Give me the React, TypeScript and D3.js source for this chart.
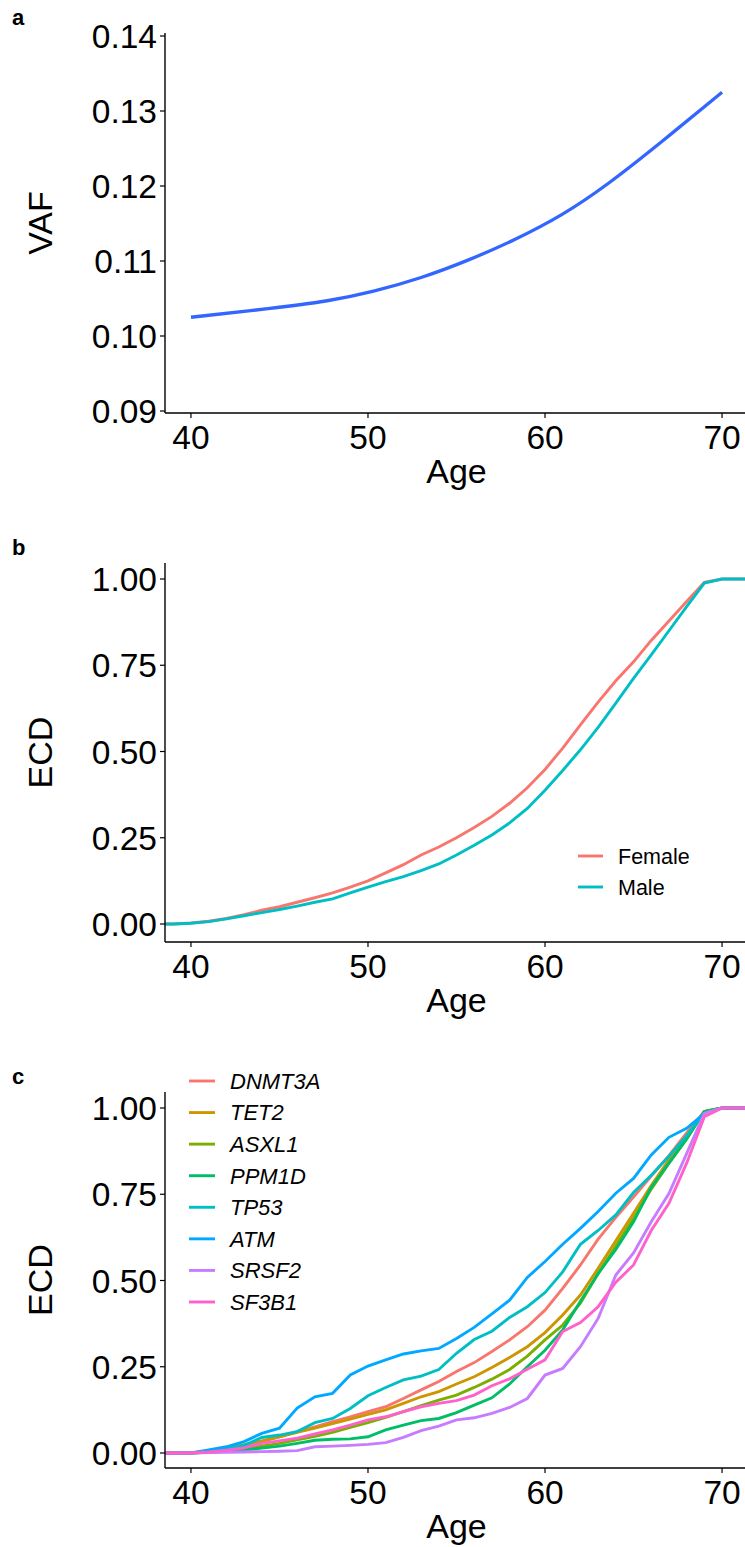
import React from "react";
import * as d3 from "d3";

// ---------- Panel a : smoothed VAF vs age ----------
const vafAge = [40, 44.6, 47.7, 50.3, 53, 55.7, 58.3, 61, 63.5, 66.5, 70];
const vafValue = [0.1025, 0.1037, 0.1046, 0.1059, 0.1077, 0.1101, 0.1128, 0.1161, 0.1201, 0.1257, 0.1325];
const vafTicks = [0.09, 0.1, 0.11, 0.12, 0.13, 0.14];

// ---------- Panel b / c : ECD by age ----------
const ecdAges = [38, 39, 40, 41, 42, 43, 44, 45, 46, 47, 48, 49, 50, 51, 52, 53, 54, 55, 56, 57, 58, 59, 60, 61, 62, 63, 64, 65, 66, 67, 68, 69, 70, 76];

const female = [0, 0, 0.003, 0.008, 0.016, 0.027, 0.04, 0.05, 0.063, 0.076, 0.09, 0.107, 0.125, 0.148, 0.172, 0.2, 0.223, 0.25, 0.28, 0.312, 0.35, 0.395, 0.448, 0.51, 0.577, 0.643, 0.705, 0.76, 0.822, 0.878, 0.935, 0.99, 1, 1];
const male = [0, 0, 0.002, 0.007, 0.015, 0.024, 0.033, 0.042, 0.052, 0.063, 0.073, 0.09, 0.107, 0.123, 0.137, 0.155, 0.174, 0.2, 0.228, 0.258, 0.293, 0.335, 0.388, 0.445, 0.505, 0.57, 0.64, 0.712, 0.78, 0.85, 0.92, 0.988, 1, 1];

const sexNames = ["Female", "Male"];
const sexColors = ["#F8766D", "#00BFC4"];

const dnmt3a = [0, 0, 0, 0.006, 0.013, 0.022, 0.033, 0.047, 0.062, 0.076, 0.091, 0.105, 0.12, 0.134, 0.158, 0.183, 0.207, 0.236, 0.262, 0.294, 0.328, 0.366, 0.414, 0.477, 0.545, 0.62, 0.683, 0.742, 0.803, 0.862, 0.928, 0.99, 1, 1];
const tet2 = [0, 0, 0, 0.006, 0.014, 0.024, 0.035, 0.047, 0.06, 0.072, 0.085, 0.098, 0.112, 0.125, 0.144, 0.163, 0.178, 0.2, 0.221, 0.248, 0.277, 0.308, 0.349, 0.4, 0.458, 0.535, 0.615, 0.695, 0.775, 0.85, 0.92, 0.99, 1, 1];
const asxl1 = [0, 0, 0, 0.003, 0.007, 0.012, 0.02, 0.028, 0.038, 0.048, 0.06, 0.074, 0.088, 0.103, 0.12, 0.137, 0.153, 0.168, 0.19, 0.214, 0.242, 0.281, 0.328, 0.371, 0.434, 0.52, 0.6, 0.68, 0.765, 0.84, 0.91, 0.99, 1, 1];
const ppm1d = [0, 0, 0, 0.002, 0.005, 0.009, 0.014, 0.02, 0.028, 0.037, 0.04, 0.041, 0.047, 0.067, 0.081, 0.094, 0.1, 0.117, 0.139, 0.16, 0.2, 0.25, 0.298, 0.357, 0.44, 0.52, 0.59, 0.67, 0.77, 0.84, 0.91, 0.99, 1, 1];
const tp53 = [0, 0, 0, 0.004, 0.012, 0.022, 0.045, 0.052, 0.062, 0.088, 0.1, 0.129, 0.166, 0.19, 0.212, 0.223, 0.242, 0.289, 0.329, 0.353, 0.393, 0.424, 0.465, 0.525, 0.605, 0.645, 0.69, 0.755, 0.805, 0.86, 0.92, 0.985, 1, 1];
const atm = [0, 0, 0, 0.009, 0.018, 0.033, 0.057, 0.072, 0.13, 0.163, 0.173, 0.226, 0.252, 0.27, 0.287, 0.296, 0.303, 0.332, 0.364, 0.403, 0.443, 0.509, 0.555, 0.605, 0.651, 0.7, 0.753, 0.796, 0.864, 0.915, 0.941, 0.984, 1, 1];
const srsf2 = [0, 0, 0, 0.001, 0.002, 0.003, 0.004, 0.005, 0.007, 0.018, 0.02, 0.022, 0.025, 0.03, 0.045, 0.065, 0.078, 0.096, 0.102, 0.115, 0.132, 0.158, 0.226, 0.245, 0.308, 0.39, 0.516, 0.58, 0.67, 0.752, 0.868, 0.984, 1, 1];
const sf3b1 = [0, 0, 0, 0.003, 0.008, 0.015, 0.028, 0.035, 0.043, 0.055, 0.067, 0.081, 0.096, 0.105, 0.12, 0.134, 0.144, 0.152, 0.168, 0.195, 0.215, 0.243, 0.27, 0.352, 0.378, 0.424, 0.495, 0.545, 0.645, 0.724, 0.84, 0.975, 1, 1];

const geneNames = ["DNMT3A", "TET2", "ASXL1", "PPM1D", "TP53", "ATM", "SRSF2", "SF3B1"];
const geneColors = ["#F8766D", "#CD9600", "#7CAE00", "#00BE67", "#00BFC4", "#00A9FF", "#C77CFF", "#FF61CC"];
const geneValues = [dnmt3a, tet2, asxl1, ppm1d, tp53, atm, srsf2, sf3b1];

const ageTicks = [40, 50, 60, 70];
const ecdTicks = [0, 0.25, 0.5, 0.75, 1];

const FONT = "'Liberation Sans', Arial, Helvetica, sans-serif";
const W = 745;
const H = 1547;
const LW = 2.9;

const x = d3.scaleLinear().domain([38.5, 71.5]).range([164.4, 748.6]);

type PanelProps = {
  id: string;
  label: string;
  yTitle: string;
  y: d3.ScaleLinear<number, number>;
  yTicks: number[];
  yFormat: (v: number) => string;
  top: number;
  bottom: number;
  children?: React.ReactNode;
};

function Panel({ id, label, yTitle, y, yTicks, yFormat, top, bottom, children }: PanelProps) {
  const left = 165;
  const right = 749;
  return (
    <g>
      <defs>
        <clipPath id={id}>
          <rect x={left} y={top} width={right - left} height={bottom - top} />
        </clipPath>
      </defs>
      <text x={12} y={top - 8} fontFamily={FONT} fontSize={22} fontWeight="bold">{label}</text>
      <g clipPath={`url(#${id})`}>{children}</g>
      {/* y axis */}
      <line x1={left} x2={left} y1={top} y2={bottom} stroke="black" strokeWidth={1.4} />
      {yTicks.map((t) => (
        <g key={t}>
          <line x1={left - 5} x2={left} y1={y(t)} y2={y(t)} stroke="black" strokeWidth={1.2} />
          <text x={left - 8} y={y(t)} dy="0.36em" textAnchor="end" fontFamily={FONT} fontSize={33.5}>{yFormat(t)}</text>
        </g>
      ))}
      <text transform={`translate(${52},${(top + bottom) / 2}) rotate(-90)`} textAnchor="middle" fontFamily={FONT} fontSize={34}>{yTitle}</text>
      {/* x axis */}
      <line x1={left} x2={right} y1={bottom} y2={bottom} stroke="black" strokeWidth={1.4} />
      {ageTicks.map((t) => (
        <g key={t}>
          <line x1={x(t)} x2={x(t)} y1={bottom} y2={bottom + 5} stroke="black" strokeWidth={1.2} />
          <text x={x(t)} y={bottom + 36} textAnchor="middle" fontFamily={FONT} fontSize={33.5}>{t}</text>
        </g>
      ))}
      <text x={x(55)} y={bottom + 70} textAnchor="middle" fontFamily={FONT} fontSize={34}>Age</text>
    </g>
  );
}

export default function App() {
  const yA = d3.scaleLinear().domain([0.09, 0.14]).range([411, 36]);
  const yB = d3.scaleLinear().domain([0, 1]).range([924, 579]);
  const yC = d3.scaleLinear().domain([0, 1]).range([1453, 1108]);

  const smooth = d3
    .line<number>()
    .x((_, i) => x(vafAge[i]))
    .y((v) => yA(v))
    .curve(d3.curveBasis);

  const lineB = d3.line<number>().x((_, i) => x(ecdAges[i])).y((v) => yB(v));
  const lineC = d3.line<number>().x((_, i) => x(ecdAges[i])).y((v) => yC(v));

  const sexValues = [female, male];

  return (
    <svg width={W} height={H} style={{ position: "absolute", left: 0, top: 0, background: "white" }}>
      <rect width={W} height={H} fill="white" />
      <Panel id="clipA" label="a" yTitle="VAF" y={yA} yTicks={vafTicks} yFormat={(v) => v.toFixed(2)} top={33} bottom={413}>
        <path d={smooth(vafValue) || ""} fill="none" stroke="#3366FF" strokeWidth={3.3} />
      </Panel>

      <Panel id="clipB" label="b" yTitle="ECD" y={yB} yTicks={ecdTicks} yFormat={(v) => v.toFixed(2)} top={563} bottom={942}>
        {sexValues.map((vals, i) => (
          <path key={sexNames[i]} d={lineB(vals) || ""} fill="none" stroke={sexColors[i]} strokeWidth={LW} />
        ))}
      </Panel>
      {sexNames.map((n, i) => (
        <g key={n}>
          <line x1={578} x2={603} y1={856 + i * 31} y2={856 + i * 31} stroke={sexColors[i]} strokeWidth={LW} />
          <text x={618} y={856 + i * 31} dy="0.36em" fontFamily={FONT} fontSize={21.5}>{n}</text>
        </g>
      ))}

      <Panel id="clipC" label="c" yTitle="ECD" y={yC} yTicks={ecdTicks} yFormat={(v) => v.toFixed(2)} top={1092} bottom={1468}>
        {geneValues.map((vals, i) => (
          <path key={geneNames[i]} d={lineC(vals) || ""} fill="none" stroke={geneColors[i]} strokeWidth={LW} />
        ))}
      </Panel>
      {geneNames.map((n, i) => (
        <g key={n}>
          <line x1={189} x2={215} y1={1081 + i * 31.57} y2={1081 + i * 31.57} stroke={geneColors[i]} strokeWidth={LW} />
          <text x={230} y={1081 + i * 31.57} dy="0.36em" fontFamily={FONT} fontSize={22} fontStyle="italic">{n}</text>
        </g>
      ))}
    </svg>
  );
}
